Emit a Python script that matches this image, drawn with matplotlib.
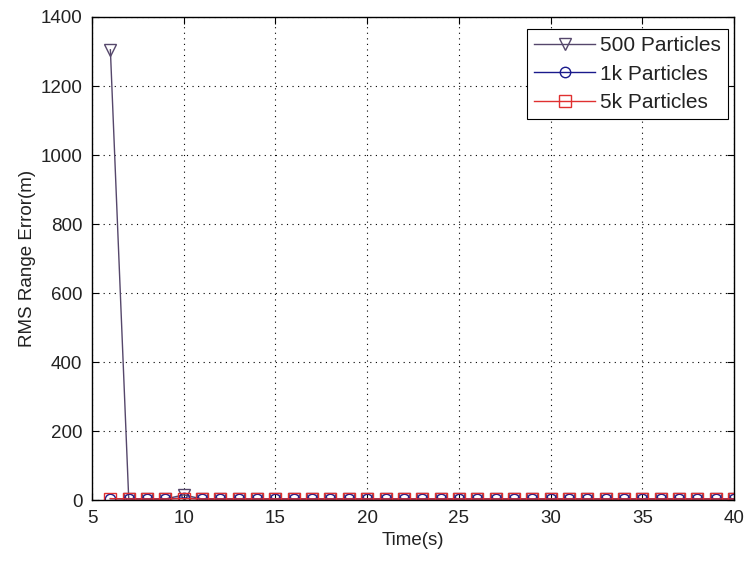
import numpy as np
import matplotlib
matplotlib.use('Agg')
import matplotlib.pyplot as plt

plt.rcParams['font.family'] = ['Liberation Sans', 'DejaVu Sans']

# time steps (s)
t = list(range(6, 41))

# RMS range error (m) for each particle count
err_500 = [1305, 4, 3, 3, 15] + [3] * 30
err_1k = [4, 3, 3, 3, 6] + [3] * 30
err_5k = [4, 3, 3, 3, 4] + [3] * 30

fig = plt.figure(figsize=(7.44, 5.61), dpi=100)
ax = fig.add_axes([0.1237, 0.1087, 0.8629, 0.861])

ax.plot(t, err_500, color='#55476b', marker='v', mfc='none', ms=9, lw=1, label='500 Particles')
ax.plot(t, err_1k, color='#1a1a8c', marker='o', mfc='none', ms=7.5, lw=1, label='1k Particles')
ax.plot(t, err_5k, color='#e03030', marker='s', mfc='none', ms=8, lw=1, label='5k Particles')

ax.set_xlim(5, 40)
ax.set_ylim(0, 1400)
ax.set_xticks(range(5, 41, 5))
ax.set_yticks(range(0, 1401, 200))
ax.grid(True, color='black', linestyle=(0, (1, 4)), lw=0.8)
ax.tick_params(direction='in', labelsize=13.5, labelcolor='#222222',
               top=True, right=True, pad=7, length=5)
for s in ax.spines.values():
    s.set_linewidth(1)

ax.set_xlabel('Time(s)', fontsize=13.5, labelpad=4, color='#222222')
ax.set_ylabel('RMS Range Error(m)', fontsize=13.5, labelpad=3, color='#222222')

leg = ax.legend(loc='upper right', bbox_to_anchor=(0.991, 0.975), borderaxespad=0,
                fontsize=15, fancybox=False, framealpha=1, edgecolor='black',
                handlelength=2.9, labelspacing=0.45, handletextpad=0.25,
                borderpad=0.35)
leg.get_frame().set_linewidth(0.8)
for txt in leg.get_texts():
    txt.set_color('#222222')

plt.savefig('out.png', dpi=100)
